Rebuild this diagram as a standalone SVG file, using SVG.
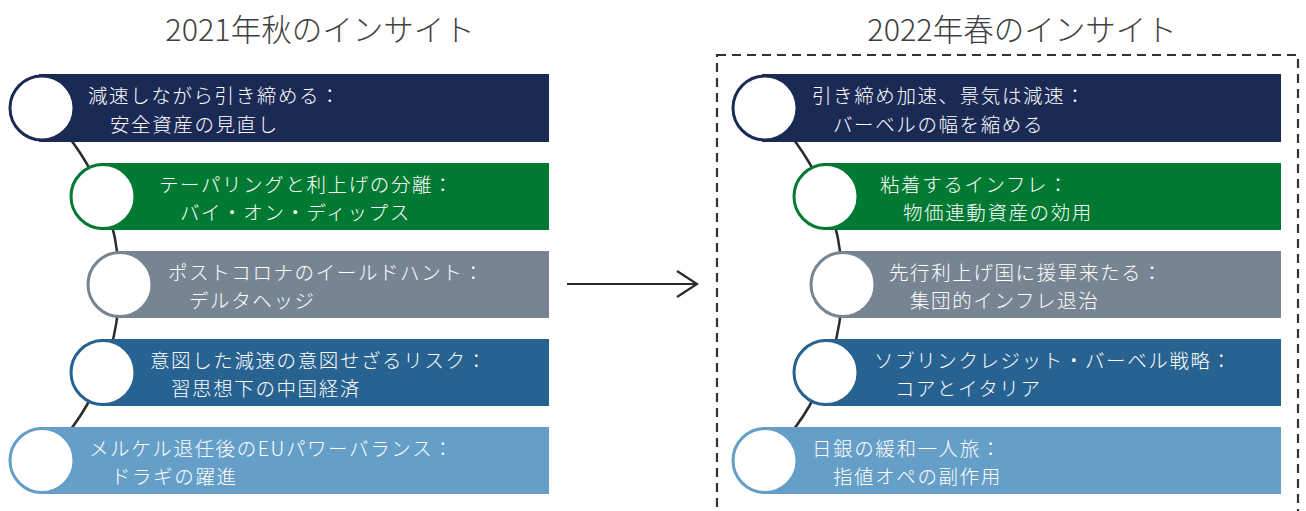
<svg xmlns="http://www.w3.org/2000/svg" width="1306" height="511" viewBox="0 0 1306 511">
<style>
.t{font-family:"Noto Sans CJK JP","Noto Sans",sans-serif;font-size:19.5px;letter-spacing:1.6px;fill:#ffffff;font-weight:300}
.title{font-family:"Noto Sans CJK JP","Noto Sans",sans-serif;font-size:30.5px;fill:#404040;font-weight:300;text-anchor:middle}
.c{fill:#ffffff;stroke-width:3}
.arc{fill:none;stroke:#2b2b2b;stroke-width:2.5}
.navy{fill:#1b2a55}.green{fill:#007a33}.gray{fill:#778593}.blue{fill:#286291}.lblue{fill:#659ec7}
</style>
<defs>
<marker id="ah" viewBox="0 0 24 30" refX="22" refY="15" markerWidth="24" markerHeight="30" markerUnits="userSpaceOnUse" orient="auto">
<path d="M2,2 L22,15 L2,28" fill="none" stroke="#2b2b2b" stroke-width="2.2"/>
</marker>
</defs>
<text class="title" x="320" y="41">2021年秋のインサイト</text>
<text class="title" x="1022" y="41">2022年春のインサイト</text>
<rect x="717" y="55" width="581" height="470" fill="none" stroke="#333" stroke-width="2.2" stroke-dasharray="9,6"/>
<g id="connectors">
<path class="arc" d="M42,108 A240,240 0 0 1 42,461"/>
<path class="arc" d="M765,108 A240,240 0 0 1 765,461"/>
<line x1="567" y1="284" x2="697" y2="284" stroke="#2b2b2b" stroke-width="2.2" marker-end="url(#ah)"/>
</g>
<g id="l1"><rect class="navy" x="39" y="74" width="510" height="68"/><circle class="c" cx="42" cy="108" r="32" stroke="#1b2a55"/>
<text class="t" x="88" y="103">減速しながら引き締める：</text><text class="t" x="110" y="131.5">安全資産の見直し</text></g>
<g id="l2"><rect class="green" x="100" y="163" width="449" height="67"/><circle class="c" cx="103" cy="196.5" r="32" stroke="#007a33"/>
<text class="t" x="159" y="191.5">テーパリングと利上げの分離：</text><text class="t" x="180" y="220">バイ・オン・ディップス</text></g>
<g id="l3"><rect class="gray" x="118" y="251" width="431" height="67"/><circle class="c" cx="120" cy="284.5" r="32" stroke="#778593"/>
<text class="t" x="168" y="279.5">ポストコロナのイールドハント：</text><text class="t" x="189" y="308">デルタヘッジ</text></g>
<g id="l4"><rect class="blue" x="100" y="339" width="449" height="67"/><circle class="c" cx="103" cy="372.5" r="32" stroke="#286291"/>
<text class="t" x="150" y="367.5">意図した減速の意図せざるリスク：</text><text class="t" x="171" y="396">習思想下の中国経済</text></g>
<g id="l5"><rect class="lblue" x="39" y="427" width="510" height="67"/><circle class="c" cx="42" cy="460.5" r="32" stroke="#659ec7"/>
<text class="t" x="89" y="455.5">メルケル退任後のEUパワーバランス：</text><text class="t" x="111" y="484">ドラギの躍進</text></g>
<g id="r1"><rect class="navy" x="762" y="74" width="519" height="68"/><circle class="c" cx="765" cy="108" r="32" stroke="#1b2a55"/>
<text class="t" x="812" y="103">引き締め加速、景気は減速：</text><text class="t" x="833" y="131.5">バーベルの幅を縮める</text></g>
<g id="r2"><rect class="green" x="823" y="163" width="458" height="67"/><circle class="c" cx="826" cy="196.5" r="32" stroke="#007a33"/>
<text class="t" x="880" y="191.5">粘着するインフレ：</text><text class="t" x="903" y="220">物価連動資産の効用</text></g>
<g id="r3"><rect class="gray" x="841" y="251" width="440" height="67"/><circle class="c" cx="843" cy="284.5" r="32" stroke="#778593"/>
<text class="t" x="889" y="279.5">先行利上げ国に援軍来たる：</text><text class="t" x="910" y="308">集団的インフレ退治</text></g>
<g id="r4"><rect class="blue" x="823" y="339" width="458" height="67"/><circle class="c" cx="826" cy="372.5" r="32" stroke="#286291"/>
<text class="t" x="874" y="367.5">ソブリンクレジット・バーベル戦略：</text><text class="t" x="895" y="396">コアとイタリア</text></g>
<g id="r5"><rect class="lblue" x="762" y="427" width="519" height="67"/><circle class="c" cx="765" cy="460.5" r="32" stroke="#659ec7"/>
<text class="t" x="812" y="455.5">日銀の緩和一人旅：</text><text class="t" x="833" y="484">指値オペの副作用</text></g>
</svg>
